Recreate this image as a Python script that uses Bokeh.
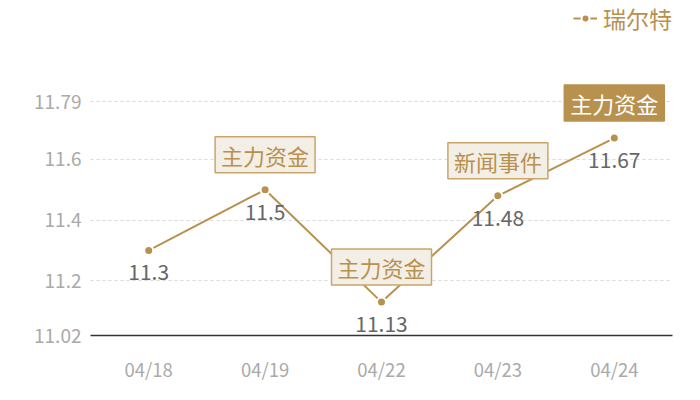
from bokeh.plotting import figure
from bokeh.models import ColumnDataSource, FixedTicker, Legend, LegendItem
from bokeh.core.properties import value
from bokeh.embed import file_html
from bokeh.resources import INLINE

dates = ["04/18", "04/19", "04/22", "04/23", "04/24"]
prices = [11.3, 11.5, 11.13, 11.48, 11.67]
y_ticks = [11.02, 11.2, 11.4, 11.6, 11.79]
series_name = "瑞尔特"

mark_dates = ["04/19", "04/22", "04/23"]
mark_values = [11.5, 11.13, 11.48]
mark_texts = ["主力资金", "主力资金", "新闻事件"]
last_date = ["04/24"]
last_value = [11.67]
last_text = ["主力资金"]

GOLD = "#b8914f"
FONT = "Noto Sans CJK SC"

p = figure(x_range=dates, y_range=(11.02, 12.1232), width=684, height=384,
           output_backend="svg", toolbar_location=None,
           min_border_left=90, min_border_right=12, min_border_top=0, min_border_bottom=43)
p.outline_line_color = None
p.background_fill_color = "white"

src = ColumnDataSource(dict(x=dates, y=prices, lbl=[str(v) for v in prices]))
ln = p.line("x", "y", source=src, line_color=GOLD, line_width=2)
sc = p.scatter("x", "y", source=src, size=9, fill_color=GOLD, line_color="white", line_width=2)

p.text("x", "y", text="lbl", source=src, text_color="#666666", text_font=value(FONT),
       text_font_size="21px", text_align="center", text_baseline="middle", y_offset=22)

msrc = ColumnDataSource(dict(x=mark_dates, y=mark_values, t=mark_texts))
p.text("x", "y", text="t", source=msrc, text_color=GOLD, text_font=value(FONT),
       text_font_size="22px", text_align="center", text_baseline="middle", y_offset=-35,
       background_fill_color="#f3efe7", border_line_color="#c9a56a", border_line_width=1.5,
       padding=(6, 2))

lsrc = ColumnDataSource(dict(x=last_date, y=last_value, t=last_text))
p.text("x", "y", text="t", source=lsrc, text_color="white", text_font=value(FONT),
       text_font_size="22px", text_align="center", text_baseline="middle", y_offset=-35,
       background_fill_color=GOLD, border_line_color=GOLD, border_line_width=1.5,
       padding=(6, 2))

p.yaxis.ticker = FixedTicker(ticks=y_ticks)
p.yaxis.major_label_overrides = {t: str(t) for t in y_ticks}
p.yaxis.axis_line_color = None
p.yaxis.major_tick_line_color = None
p.yaxis.minor_tick_line_color = None
p.yaxis.major_label_text_color = "#aaaaaa"
p.yaxis.major_label_text_font = FONT
p.yaxis.major_label_text_font_size = "19px"
p.yaxis.major_label_standoff = 3

p.xaxis.axis_line_color = "#333333"
p.xaxis.axis_line_width = 1.5
p.xaxis.major_tick_line_color = None
p.xaxis.minor_tick_line_color = None
p.xaxis.major_label_text_color = "#aaaaaa"
p.xaxis.major_label_text_font = FONT
p.xaxis.major_label_text_font_size = "18.5px"
p.xaxis.major_label_standoff = 14

p.xgrid.grid_line_color = None
p.ygrid.grid_line_color = "#d9d9d9"
p.ygrid.grid_line_dash = "3 3"

legend = Legend(items=[LegendItem(label=series_name, renderers=[ln, sc])],
                location=(483, 300), orientation="horizontal",
                label_text_color=GOLD, label_text_font=FONT, label_text_font_size="23px",
                background_fill_alpha=0, border_line_color=None, glyph_width=24,
                label_standoff=6, padding=0, margin=0)
p.add_layout(legend, "center")

open("out.html", "w").write(file_html(p, INLINE))
